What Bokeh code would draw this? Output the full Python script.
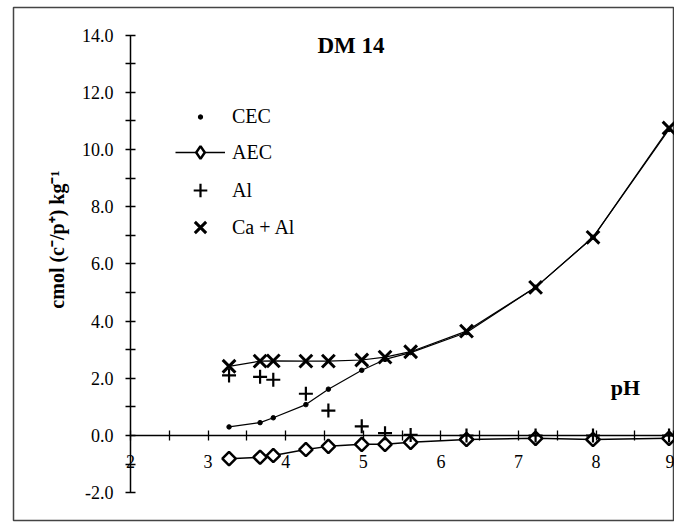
import math
from bokeh.plotting import figure
from bokeh.models import (LinearAxis, FixedTicker, PrintfTickFormatter, Legend,
                          LegendItem, Label, Range1d)
from bokeh.embed import file_html
from bokeh.resources import INLINE

# ---- data ----
ph = [3.27, 3.67, 3.84, 4.26, 4.55, 4.98, 5.28, 5.61, 6.33, 7.22, 7.96, 8.94]
cec = [0.30, 0.45, 0.62, 1.08, 1.62, 2.28, 2.66, 2.90, 3.60, 5.18, 6.93, 10.70]
aec = [-0.81, -0.76, -0.70, -0.49, -0.38, -0.31, -0.31, -0.24, -0.14, -0.10, -0.14, -0.10]
al = [2.10, 2.05, 1.95, 1.46, 0.87, 0.32, 0.08, 0.02, 0.00, 0.00, 0.00, 0.00]
ca_al = [2.42, 2.60, 2.61, 2.60, 2.60, 2.64, 2.74, 2.93, 3.65, 5.18, 6.93, 10.75]

x_major = [2, 3, 4, 5, 6, 7, 8, 9]
x_minor = [2.5, 3.5, 4.5, 5.5, 6.5, 7.5, 8.5]
y_major = [-2, 0, 2, 4, 6, 8, 10, 12, 14]
y_minor = [-1, 1, 3, 5, 7, 9, 11, 13]

title_text = "DM 14"
x_title = "pH"
y_title = "cmol (c\u207b/p\u207a) kg\u207b\u00b9"

SERIF = "Liberation Serif"
NAN = float("nan")

p = figure(width=674, height=525, output_backend="svg", toolbar_location=None,
           x_axis_location=None, y_axis_location=None,
           x_range=Range1d(0.4923, 9.0103), y_range=Range1d(-2.972, 14.965),
           min_border_left=13, min_border_right=0, min_border_top=7,
           min_border_bottom=5)
p.title.visible = False
p.grid.visible = False
p.outline_line_color = "#444444"
p.outline_line_width = 1.5
p.background_fill_color = "white"
p.border_fill_color = "white"

# axes crossing at (2, 0)
yax = LinearAxis(fixed_location=2, bounds=(-2, 14),
                 ticker=FixedTicker(ticks=y_major, minor_ticks=y_minor),
                 formatter=PrintfTickFormatter(format="%.1f"))
xax = LinearAxis(fixed_location=0, bounds=(2, 9.0103),
                 ticker=FixedTicker(ticks=x_major, minor_ticks=x_minor),
                 formatter=PrintfTickFormatter(format="%d"))
for ax in (yax, xax):
    ax.axis_line_color = "black"
    ax.axis_line_width = 1.5
    ax.major_tick_in = 5
    ax.major_tick_out = 5
    ax.minor_tick_in = 5
    ax.minor_tick_out = 5
    ax.major_tick_line_width = 1.3
    ax.minor_tick_line_width = 1.3
    ax.major_label_text_font = SERIF
    ax.major_label_text_font_size = "18px"
    ax.major_label_text_color = "black"
yax.major_label_standoff = 12
xax.major_label_standoff = 14
p.add_layout(yax, "left")
p.add_layout(xax, "below")

# lines
p.line(ph, ca_al, line_color="black", line_width=1.2)
p.line(ph, cec, line_color="black", line_width=1.2)
aec_line = p.line(ph, aec, line_color="black", line_width=1.5)

# markers
cec_pts = p.scatter(ph, cec, marker="circle", size=4.5, fill_color="black",
                    line_color="black")
aec_pts = p.scatter(ph, aec, marker="square", angle=math.pi / 4, size=9.5,
                    fill_color="white", line_color="black", line_width=2.5)
al_pts = p.scatter(ph, al, marker="cross", size=14, line_color="black",
                   line_width=2.2)
caal_pts = p.scatter(ph, ca_al, marker="x", size=18, line_color="black",
                     line_width=3)
# legend-only key for AEC (diamond shape; a single NaN point draws nothing)
aec_key = p.scatter([NAN], [NAN], marker="diamond", fill_color="white",
                    line_color="black", line_width=2.5)

# one legend per entry so that every key gets its own marker size
# (bokeh sizes legend markers as 0.4 * min(glyph_width, glyph_height))
entries = [
    ("CEC", [cec_pts], 11, 398),
    ("AEC", [aec_line, aec_key], 32, 368),
    ("Al", [al_pts], 34, 330),
    ("Ca + Al", [caal_pts], 40, 293),
]
for label, rends, gh, center in entries:
    lg = Legend(items=[LegendItem(label=label, renderers=rends)],
                location=(162, center - gh / 2))
    lg.glyph_width = 50
    lg.glyph_height = gh
    lg.label_height = gh
    lg.label_standoff = 7
    lg.spacing = 0
    lg.padding = 0
    lg.margin = 0
    lg.border_line_color = None
    lg.background_fill_alpha = 0
    lg.label_text_font = SERIF
    lg.label_text_font_size = "20px"
    lg.label_text_color = "black"
    p.add_layout(lg)

p.add_layout(Label(x=4.41, y=13.64, text=title_text, text_font=SERIF,
                   text_font_style="bold", text_font_size="23px",
                   text_color="black",
                   text_align="left", text_baseline="middle"))
p.add_layout(Label(x=8.19, y=1.68, text=x_title, text_font=SERIF,
                   text_font_style="bold", text_font_size="22px",
                   text_color="black",
                   text_align="left", text_baseline="middle"))
p.add_layout(Label(x=1.059, y=6.85, text=y_title, text_font=SERIF,
                   text_font_style="bold", text_font_size="20px",
                   text_color="black",
                   angle=math.pi / 2, text_align="center",
                   text_baseline="middle"))

open("out.html", "w").write(file_html(p, INLINE))
